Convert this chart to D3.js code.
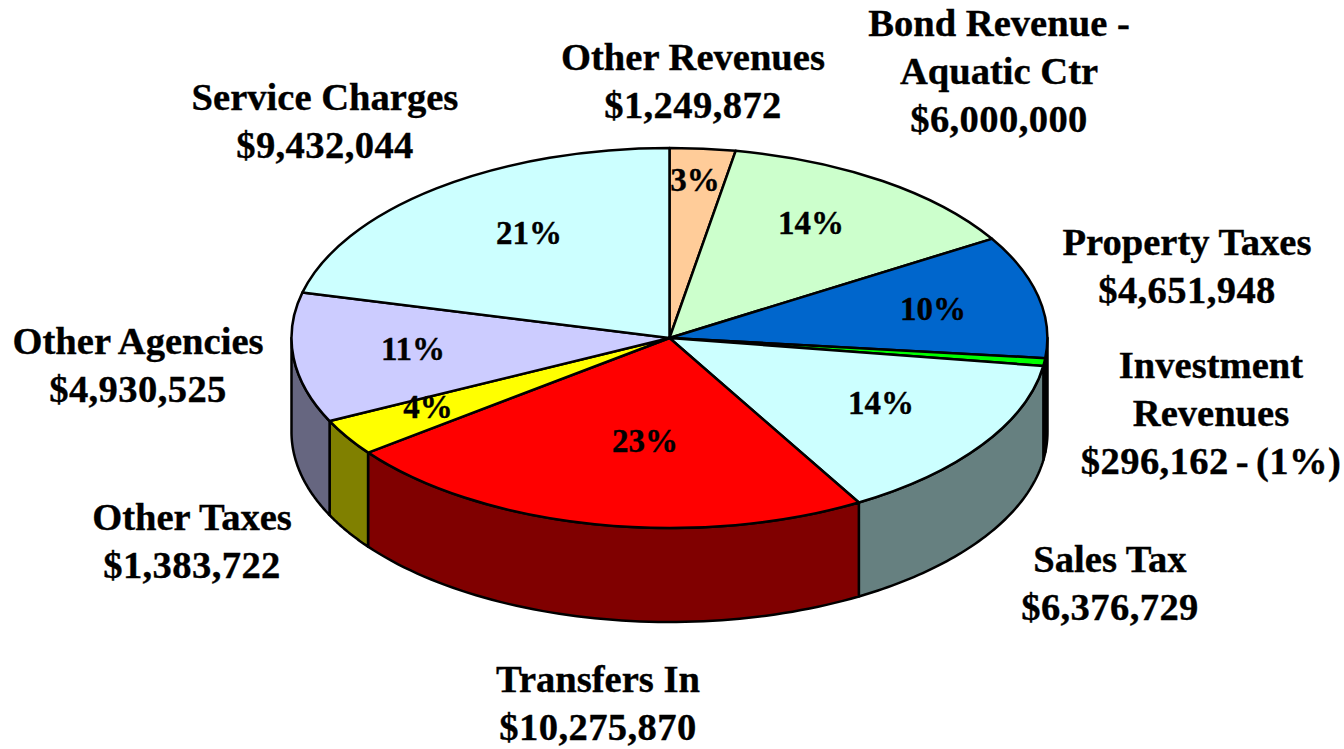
<!DOCTYPE html>
<html><head><meta charset="utf-8">
<style>html,body{margin:0;padding:0;background:#fff}svg{display:block}text{font-family:"Liberation Serif","Times New Roman",serif;font-weight:bold;fill:#000;text-anchor:middle;stroke:#000;stroke-width:.35px}</style>
<script src="https://cdn.jsdelivr.net/npm/d3@7"></script></head><body>
<script>
const categories=["Other Revenues","Bond Revenue - Aquatic Ctr","Property Taxes","Investment Revenues","Sales Tax","Transfers In","Other Taxes","Other Agencies","Service Charges"];
const values=[1249872,6000000,4651948,296162,6376729,10275870,1383722,4930525,9432044];
const percents=["3%","14%","10%","1%","14%","23%","4%","11%","21%"];
const topColors=["#ffcc99","#ccffcc","#0066cc","#00ff00","#ccffff","#ff0000","#ffff00","#ccccff","#ccffff"];
const sideColors=["#806650","#668066","#003366","#008000","#668080","#800000","#808000","#666680","#668080"];
const labelLines=[["Other Revenues","$1,249,872"],["Bond Revenue -","Aquatic Ctr","$6,000,000"],["Property Taxes","$4,651,948"],["Investment","Revenues","$296,162 - (1%)"],["Sales Tax","$6,376,729"],["Transfers In","$10,275,870"],["Other Taxes","$1,383,722"],["Other Agencies","$4,930,525"],["Service Charges","$9,432,044"]];
// layout only
const labelPos=[[693,70],[999,36],[1187,254.5],[1211,378],[1110,572],[598,692],[192,530],[138,354],[325,110]];
const pctPos=[[695,191],[811,234],[933,320],null,[881,414],[645,452],[428,418],[413,360],[529,244]];
const W=1344,H=749,cx=669.5,cy=338,rx=378,ry=190,depth=94;
const svg=d3.select("body").append("svg").attr("width",W).attr("height",H);
const arcs=d3.pie().sort(null).value(d=>d)(values);
const px=a=>cx+rx*Math.sin(a),py=a=>cy-ry*Math.cos(a);
const line=d3.line();
const lo=Math.PI/2,hi=3*Math.PI/2;
const sides=svg.append("g");
arcs.forEach((d,i)=>{
  const a0=Math.max(d.startAngle,lo),a1=Math.min(d.endAngle,hi);
  if(a1<=a0)return;
  const ang=d3.range(0,61).map(k=>a0+(a1-a0)*k/60);
  const up=ang.map(a=>[px(a),py(a)]);
  const dn=ang.slice().reverse().map(a=>[px(a),py(a)+depth]);
  sides.append("path").attr("d",line(up.concat(dn))+"Z").attr("fill",sideColors[i]).attr("stroke","#000").attr("stroke-width",2.5).attr("stroke-linejoin","round");
});
const arcGen=d3.arc().innerRadius(0).outerRadius(1);
const tops=svg.append("g").attr("transform",`translate(${cx},${cy}) scale(${rx},${ry})`);
tops.selectAll("path").data(arcs).join("path").attr("d",arcGen).attr("fill",(d,i)=>topColors[i]).attr("stroke","#000").attr("stroke-width",2.5).attr("stroke-linejoin","round").attr("vector-effect","non-scaling-stroke");
const lh=48;
labelLines.forEach((ls,i)=>{
  const t=svg.append("text").attr("x",labelPos[i][0]).attr("y",labelPos[i][1]).style("font-size","38.6px");
  ls.forEach((s,j)=>{
    const ts=t.append("tspan").attr("x",labelPos[i][0]).attr("y",labelPos[i][1]+j*lh).text(s);
    if(s[0]==="$")ts.style("letter-spacing","0.4px").style("word-spacing","-3px");
  });
});
percents.forEach((p,i)=>{
  if(!pctPos[i])return;
  svg.append("text").attr("x",pctPos[i][0]).attr("y",pctPos[i][1]).style("font-size","33px").text(p);
});
</script></body></html>
